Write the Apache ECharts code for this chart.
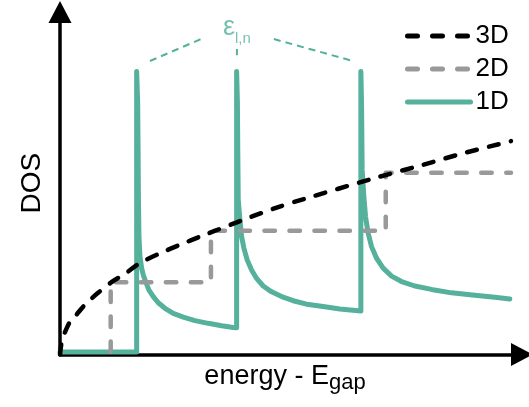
<!DOCTYPE html>
<html>
<head>
<meta charset="utf-8">
<script src="https://cdn.jsdelivr.net/npm/echarts@6/dist/echarts.min.js"></script>
<style>
  html, body { margin: 0; padding: 0; background: #fff; }
  #chart { width: 529px; height: 407px; }
</style>
</head>
<body>
<div id="chart"></div>
<script>
// Density of states vs. energy above the gap (arbitrary units)
const seriesNames = ['3D', '2D', '1D'];

// 3D: square-root rise
const dos3D = [
  [0, 0], [0.044, 0.42], [0.13, 0.72], [0.24, 1.01], [0.33, 1.12], [0.50, 1.39],
  [0.65, 1.59], [0.83, 1.80], [1.13, 2.12], [1.42, 2.36], [1.74, 2.67], [2.24, 2.99],
  [2.61, 3.20], [3.09, 3.46], [4.05, 3.96], [4.79, 4.32], [5.32, 4.54], [6.78, 5.12],
  [7.89, 5.53], [8.72, 5.85], [9.83, 6.23]
];

// 2D: staircase of subband onsets
const dos2D = [
  [1.105, 0.07], [1.105, 2.11], [3.29, 2.11], [3.29, 3.61],
  [7.10, 3.61], [7.10, 5.31], [9.83, 5.31]
];

// 1D: van Hove singularities at each subband edge
const dos1D = [
  [0, 0.07], [1.671, 0.07], [1.671, 8.26],
  [1.693, 7.34], [1.702, 5.97], [1.710, 4.51], [1.721, 3.44], [1.743, 2.86],
  [1.780, 2.52], [1.815, 2.32], [1.867, 2.13], [1.939, 1.88], [2.033, 1.69],
  [2.142, 1.51], [2.288, 1.35], [2.468, 1.20], [2.686, 1.09], [2.941, 0.99],
  [3.231, 0.91], [3.523, 0.84], [3.776, 0.79], [3.850, 0.78],
  [3.850, 8.26],
  [3.867, 7.34], [3.875, 5.97], [3.885, 4.51], [3.922, 3.93], [3.959, 3.44],
  [4.009, 3.10], [4.081, 2.76], [4.176, 2.47], [4.285, 2.22], [4.429, 2.00],
  [4.612, 1.83], [4.830, 1.69], [5.083, 1.57], [5.375, 1.47], [5.736, 1.40],
  [6.100, 1.33], [6.558, 1.27],
  [6.558, 8.26],
  [6.573, 7.28], [6.586, 5.39], [6.623, 4.61], [6.660, 4.02], [6.717, 3.54],
  [6.791, 3.15], [6.900, 2.81], [7.044, 2.52], [7.227, 2.29], [7.444, 2.13],
  [7.734, 2.00], [8.098, 1.90], [8.534, 1.80], [9.041, 1.73], [9.477, 1.67], [9.804, 1.62]
];

// Guide lines pointing from the label to the 1D peaks
const guideLeft = [[1.961, 8.57], [3.109, 9.23]];
const guideMid = [[3.856, 8.74], [3.856, 8.92]];
const guideRight = [[4.662, 9.21], [6.383, 8.57]];
const peakLabelPos = [[3.856, 9.55]];

const TEAL = '#55b09c';
const GREY = '#999999';
const FONT = '"Liberation Sans", Arial, sans-serif';

const chart = echarts.init(document.getElementById('chart'), null, { renderer: 'canvas' });

function guide(data) {
  return {
    type: 'line', data: data, symbol: 'none', silent: true, z: 1,
    lineStyle: { color: TEAL, width: 2, type: [7, 5] }
  };
}

const axisCommon = {
  type: 'value',
  axisTick: { show: false },
  axisLabel: { show: false },
  splitLine: { show: false },
  axisLine: {
    show: true,
    symbol: ['none', 'triangle'],
    symbolSize: [23, 22],
    lineStyle: { color: '#000', width: 3.5 }
  },
  nameTextStyle: { fontFamily: FONT, fontSize: 28, color: '#000' }
};

const legendDash = { '3D': [10, 15], '2D': [10, 15], '1D': 'solid' };

chart.setOption({
  animation: false,
  backgroundColor: '#fff',
  grid: { left: 60, right: 7, top: 12, bottom: 52.5, containLabel: false, outerBoundsMode: 'none' },
  xAxis: Object.assign({}, axisCommon, {
    min: 0, max: 10.07,
    name: '{a|energy - E}{s|gap}',
    nameLocation: 'middle',
    nameGap: 9,
    nameTextStyle: {
      fontFamily: FONT, color: '#000',
      padding: [0, 12, 0, 0],
      rich: {
        a: { fontFamily: FONT, fontSize: 27, color: '#000' },
        s: { fontFamily: FONT, fontSize: 22, color: '#000', verticalAlign: 'bottom', padding: [0, 0, -3, 0] }
      }
    }
  }),
  yAxis: Object.assign({}, axisCommon, {
    min: 0, max: 10,
    name: 'DOS',
    nameLocation: 'middle',
    nameGap: 14
  }),
  legend: {
    data: seriesNames.map(n => ({
      name: n,
      lineStyle: { type: legendDash[n], cap: 'round', width: 5 }
    })),
    orient: 'vertical',
    left: 400,
    top: 18,
    itemWidth: 63,
    itemHeight: 14,
    itemGap: 7,
    itemStyle: { opacity: 0 },
    lineStyle: { width: 5, cap: 'round' },
    textStyle: { fontFamily: FONT, fontSize: 26, color: '#000', lineHeight: 26 }
  },
  series: [
    {
      name: '1D', type: 'line', data: dos1D, symbol: 'none', z: 2,
      lineStyle: { color: TEAL, width: 5, join: 'round', cap: 'round' },
      itemStyle: { color: TEAL }
    },
    {
      name: '2D', type: 'line', data: dos2D, symbol: 'none', z: 3,
      lineStyle: { color: GREY, width: 4.5, type: [10.5, 14.5], cap: 'round', join: 'round' },
      itemStyle: { color: GREY }
    },
    {
      name: '3D', type: 'line', data: dos3D, symbol: 'none', smooth: 0.3, z: 4,
      lineStyle: { color: '#000', width: 4.5, type: [10, 12.5], cap: 'round' },
      itemStyle: { color: '#000' }
    },
    guide(guideLeft),
    guide(guideMid),
    guide(guideRight),
    {
      type: 'scatter', data: peakLabelPos, symbolSize: 0, silent: true,
      label: {
        show: true, position: 'inside',
        formatter: '{e|ε}{s|l,n}',
        rich: {
          e: { fontFamily: FONT, fontSize: 27, color: TEAL },
          s: { fontFamily: FONT, fontSize: 15, color: TEAL, verticalAlign: 'bottom', padding: [0, 0, -5, 0] }
        }
      }
    }
  ]
});
</script>
</body>
</html>
